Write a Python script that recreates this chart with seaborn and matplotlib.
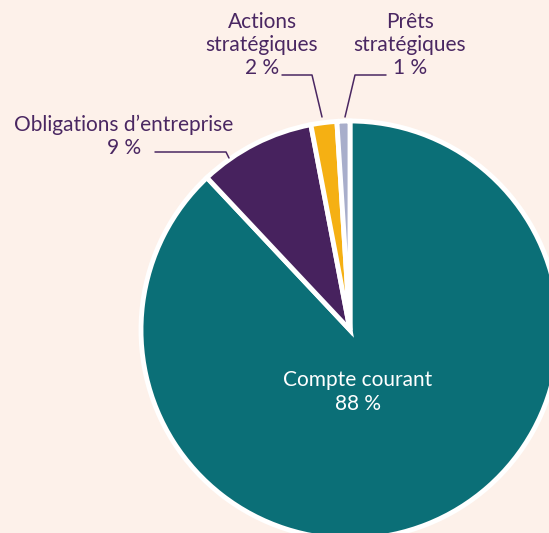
import numpy as np
import matplotlib.pyplot as plt
import seaborn as sns

# data
categories = ["Compte courant", "Obligations d\u2019entreprise", "Actions\nstratégiques", "Prêts\nstratégiques"]
shares = [88, 9, 2, 1]
share_labels = ["88 %", "9 %", "2 %", "1 %"]
colors = ["#0b6f77", "#47225e", "#f5b013", "#a8aecb"]

bg = "#fdf1ea"
txt = "#4a2762"

sns.set_theme(style="white")
plt.rcParams["font.family"] = ["Lato", "DejaVu Sans"]

fig = plt.figure(figsize=(5.49, 5.33), dpi=100, facecolor=bg)
ax = fig.add_axes([0, 0, 1, 1])
ax.set_facecolor(bg)

# pixel -> data helper (centre 350,330, radius 209 px)
R = 209.0
CX, CY = 350, 330
def px(x, y):
    return (x - CX) / R, (CY - y) / R

wedges, _ = ax.pie(shares, colors=sns.color_palette(colors), startangle=90, counterclock=False,
                   radius=1, wedgeprops=dict(edgecolor="white", linewidth=3.5))

ax.set_xlim(px(0, 0)[0], px(549, 0)[0])
ax.set_ylim(px(0, 533)[1], px(0, 0)[1])
ax.set_aspect("equal", adjustable="box")
ax.axis("off")

fs = 15
# big slice label
x, y = px(358, 392)
ax.text(x, y, categories[0] + "\n" + share_labels[0], ha="center", va="center",
        color="white", fontsize=fs, linespacing=1.2)

# outer labels
x, y = px(124, 136)
ax.text(x, y, categories[1] + "\n" + share_labels[1], ha="center", va="center",
        color=txt, fontsize=fs, linespacing=1.2)
x, y = px(262, 45)
ax.text(x, y, categories[2] + "\n" + share_labels[2], ha="center", va="center",
        color=txt, fontsize=fs, linespacing=1.2)
x, y = px(410, 45)
ax.text(x, y, categories[3] + "\n" + share_labels[3], ha="center", va="center",
        color=txt, fontsize=fs, linespacing=1.2)

# leader lines
leaders = [
    [(155, 152), (226, 152), (229, 158)],
    [(282, 75), (312, 75), (322, 117)],
    [(386, 75), (355, 75), (345, 117)],
]
for pts in leaders:
    xy = np.array([px(a, b) for a, b in pts])
    ax.plot(xy[:, 0], xy[:, 1], color=txt, lw=1.1)

fig.savefig("out.png", dpi=100, facecolor=bg)
